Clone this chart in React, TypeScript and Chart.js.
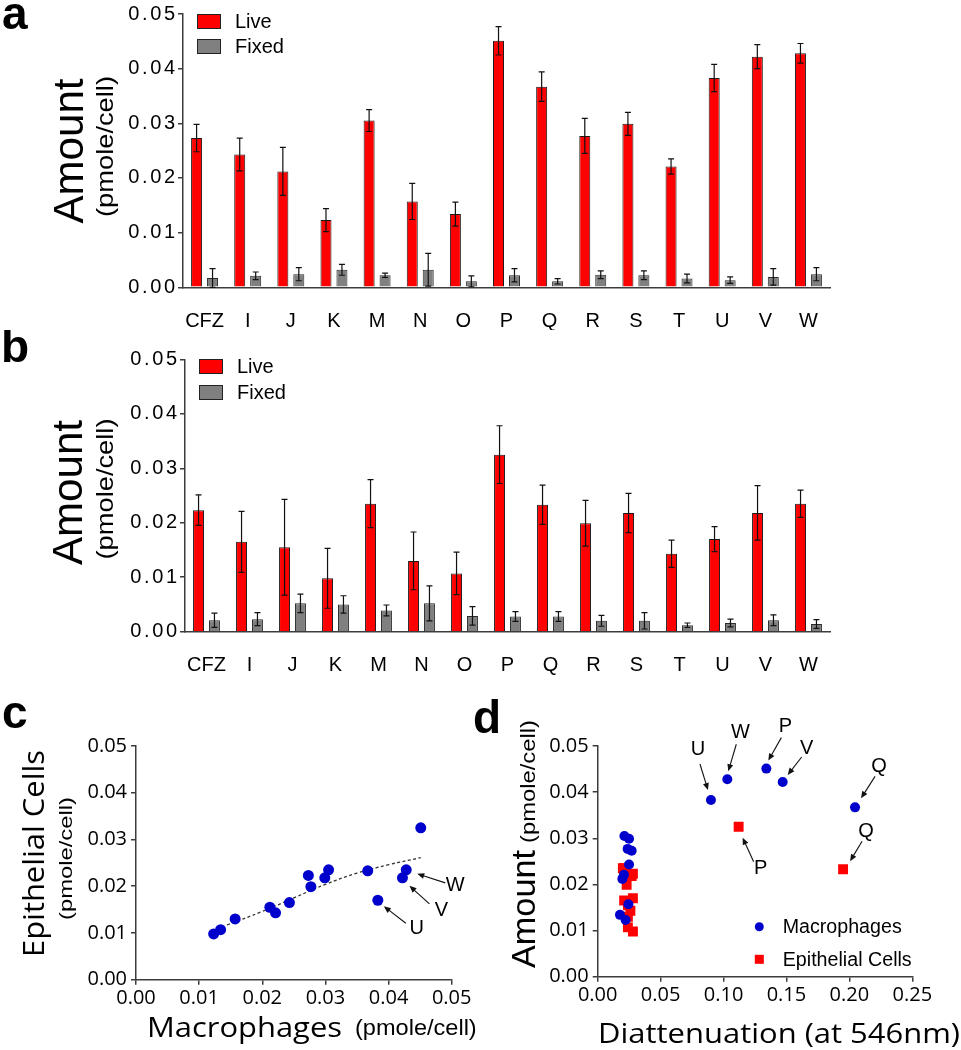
import React, { useEffect, useRef } from 'react';
import { Chart, registerables } from 'chart.js';
Chart.register(...registerables);

// ---------------- data ----------------
const compounds = ['CFZ', 'I', 'J', 'K', 'M', 'N', 'O', 'P', 'Q', 'R', 'S', 'T', 'U', 'V', 'W'];
const seriesLabels = ['Live', 'Fixed'];
const scatterLabels = ['Macrophages', 'Epithelial Cells'];

// panel a: macrophages
const macLive = [0.0273, 0.0243, 0.0212, 0.0123, 0.0305, 0.0157, 0.0134, 0.0451, 0.0367, 0.0277, 0.0299, 0.0221, 0.0383, 0.0422, 0.0428];
const macLiveErr = [0.0025, 0.0030, 0.0044, 0.0021, 0.0020, 0.0033, 0.0022, 0.0026, 0.0027, 0.0032, 0.0021, 0.0014, 0.0025, 0.0022, 0.0018];
const macFixed = [0.0017, 0.0021, 0.0024, 0.0032, 0.0022, 0.0032, 0.0011, 0.0022, 0.0011, 0.0023, 0.0022, 0.0016, 0.0013, 0.0019, 0.0024];
const macFixedErr = [0.0017, 0.0007, 0.0012, 0.0010, 0.0004, 0.0030, 0.0010, 0.0012, 0.0005, 0.0007, 0.0008, 0.0008, 0.0006, 0.0015, 0.0012];

// panel b: epithelial cells
const epiLive = [0.0223, 0.0165, 0.0155, 0.0098, 0.0235, 0.0130, 0.0107, 0.0325, 0.0233, 0.0199, 0.0218, 0.0143, 0.0170, 0.0218, 0.0235];
const epiLiveErr = [0.0028, 0.0056, 0.0088, 0.0055, 0.0044, 0.0053, 0.0039, 0.0053, 0.0036, 0.0042, 0.0036, 0.0025, 0.0023, 0.0050, 0.0025];
const epiFixed = [0.0021, 0.0023, 0.0052, 0.0050, 0.0039, 0.0052, 0.0029, 0.0028, 0.0028, 0.0020, 0.0020, 0.0012, 0.0016, 0.0021, 0.0014];
const epiFixedErr = [0.0013, 0.0012, 0.0017, 0.0016, 0.0010, 0.0032, 0.0017, 0.0009, 0.0009, 0.0010, 0.0015, 0.0004, 0.0007, 0.0010, 0.0008];

// panel c: dashed trend line
const fitX = [0.0144, 0.020, 0.025, 0.030, 0.035, 0.040, 0.0451];
const fitY = [0.0117, 0.0146, 0.0175, 0.0204, 0.0228, 0.0246, 0.0261];

// panel d: diattenuation at 546 nm
const macDiatt = [0.027, 0.0249, 0.0196, 0.0222, 0.0212, 0.0244, 0.0177, 0.134, 0.2045, 0.0238, 0.0249, 0.0209, 0.090, 0.147, 0.103];
const epiDiatt = [0.028, 0.021, 0.024, 0.028, 0.020, 0.024, 0.024, 0.112, 0.195, 0.023, 0.027, 0.026, 0.028, 0.024, 0.021];

// axis ranges / steps
const amountRange = [0, 0.05];
const amountStep = 0.01;
const diattRange = [0, 0.25];
const diattStep = 0.05;

// ---------------- helpers ----------------
const AR = '"Liberation Sans", Arial, Helvetica, sans-serif';
const OS = '"Open Sans", "Noto Sans", sans-serif';
const AXIS = '#3c3c3c';
const ROT = -Math.PI / 2;

type TxtOpt = { align?: CanvasTextAlign; baseline?: CanvasTextBaseline; rot?: number; width?: number; sx?: number; ls?: number; color?: string };
function txt(ctx: CanvasRenderingContext2D, s: string, x: number, y: number, font: string, o: TxtOpt = {}) {
  ctx.save();
  ctx.font = font;
  ctx.fillStyle = o.color || '#000';
  ctx.textAlign = o.align || 'left';
  ctx.textBaseline = o.baseline || 'alphabetic';
  const anyCtx = ctx as any;
  let useLs = false;
  if (o.ls && 'letterSpacing' in anyCtx) {
    anyCtx.letterSpacing = `${o.ls}px`;
    useLs = true;
  }
  ctx.translate(x + (useLs && o.align === 'right' ? o.ls! : 0), y);
  if (o.rot) ctx.rotate(o.rot);
  if (o.width) {
    const w = ctx.measureText(s).width;
    if (w > 0) ctx.scale(o.width / w, 1);
  } else if (o.sx) {
    ctx.scale(o.sx, 1);
  } else if (o.ls && !useLs) {
    ctx.scale(1.18, 1);
  }
  ctx.fillText(s, 0, 0);
  if (useLs) anyCtx.letterSpacing = '0px';
  ctx.restore();
}

function arrow(ctx: CanvasRenderingContext2D, x1: number, y1: number, x2: number, y2: number) {
  const a = Math.atan2(y2 - y1, x2 - x1);
  const L = 7, W = 3;
  ctx.save();
  ctx.strokeStyle = '#111';
  ctx.fillStyle = '#111';
  ctx.lineWidth = 1.1;
  ctx.beginPath();
  ctx.moveTo(x1, y1);
  ctx.lineTo(x2 - L * 0.8 * Math.cos(a), y2 - L * 0.8 * Math.sin(a));
  ctx.stroke();
  ctx.beginPath();
  ctx.moveTo(x2, y2);
  ctx.lineTo(x2 - L * Math.cos(a) + W * Math.sin(a), y2 - L * Math.sin(a) - W * Math.cos(a));
  ctx.lineTo(x2 - L * Math.cos(a) - W * Math.sin(a), y2 - L * Math.sin(a) + W * Math.cos(a));
  ctx.closePath();
  ctx.fill();
  ctx.restore();
}

function annotate(chart: any, dsIndex: number, name: string, tip: number[], tail: number[], label: number[]) {
  const ctx = chart.ctx as CanvasRenderingContext2D;
  const i = compounds.indexOf(name);
  const el = chart.getDatasetMeta(dsIndex).data[i];
  if (!el) return;
  arrow(ctx, el.x + tail[0], el.y + tail[1], el.x + tip[0], el.y + tip[1]);
  txt(ctx, name, el.x + label[0], el.y + label[1], `20px ${AR}`, { align: 'center', baseline: 'middle' });
}

const deco = (fn: (chart: any, ctx: CanvasRenderingContext2D) => void) => ({
  id: 'deco',
  afterDraw(chart: any) {
    fn(chart, chart.ctx);
  },
});

const errorBarPlugin = {
  id: 'errorBars',
  afterDatasetsDraw(chart: any) {
    const ctx = chart.ctx as CanvasRenderingContext2D;
    const y = chart.scales.y;
    chart.data.datasets.forEach((ds: any, i: number) => {
      const meta = chart.getDatasetMeta(i);
      meta.data.forEach((el: any, j: number) => {
        const v = ds.data[j];
        const e = ds.errors[j];
        const x = el.x;
        const yt = y.getPixelForValue(v + e);
        const yb = y.getPixelForValue(Math.max(0, v - e));
        ctx.save();
        ctx.strokeStyle = '#111';
        ctx.lineWidth = 1.2;
        ctx.beginPath();
        ctx.moveTo(x, yt);
        ctx.lineTo(x, yb);
        ctx.moveTo(x - 3, yt);
        ctx.lineTo(x + 3, yt);
        ctx.moveTo(x - 3, yb);
        ctx.lineTo(x + 3, yb);
        ctx.stroke();
        ctx.restore();
      });
    });
  },
};

const fmt2 = (v: any) => Number(v).toFixed(2);

// y tick labels of the bar panels are drawn from the library's own y scale, letter-spaced like the original
function wideYTicks(chart: any, ctx: CanvasRenderingContext2D) {
  const s = chart.scales.y;
  s.ticks.forEach((t: any) => {
    const y = s.getPixelForValue(t.value);
    txt(ctx, fmt2(t.value), s.right - 8, y, `20px ${AR}`, { align: 'right', baseline: 'middle', ls: 2.6 });
  });
}

function barLegend(ctx: CanvasRenderingContext2D, chart: any, x: number, ys: number[]) {
  chart.data.datasets.forEach((ds: any, i: number) => {
    ctx.save();
    ctx.fillStyle = ds.backgroundColor;
    ctx.strokeStyle = '#222';
    ctx.lineWidth = 1;
    ctx.fillRect(x, ys[i], 24, 15);
    ctx.strokeRect(x + 0.5, ys[i] + 0.5, 23, 14);
    ctx.restore();
    txt(ctx, ds.label, x + 38, ys[i] + 8, `20px ${AR}`, { baseline: 'middle' });
  });
}

function makeBar(live: number[], liveErr: number[], fixed: number[], fixedErr: number[], g: any) {
  return {
    type: 'bar',
    data: {
      labels: compounds,
      datasets: [
        { label: seriesLabels[0], data: live, errors: liveErr, backgroundColor: '#ff0000', borderColor: '#1a1a1a', borderWidth: 1, categoryPercentage: 0.74, barPercentage: 0.69 },
        { label: seriesLabels[1], data: fixed, errors: fixedErr, backgroundColor: '#808080', borderColor: '#2a2a2a', borderWidth: 1, categoryPercentage: 0.74, barPercentage: 0.69 },
      ],
    },
    options: {
      responsive: false,
      animation: false,
      events: [],
      layout: { padding: { top: g.padTop, right: g.padRight, left: 0, bottom: 0 } },
      plugins: { legend: { display: false }, tooltip: { enabled: false } },
      scales: {
        x: {
          offset: true,
          grid: { display: false },
          border: { display: true, color: AXIS, width: 1.5 },
          ticks: { color: '#000', font: { family: AR, size: 20 }, padding: 14, maxRotation: 0, autoSkip: false },
          afterFit: (s: any) => { s.height = g.xh; },
        },
        y: {
          min: amountRange[0],
          max: amountRange[1],
          ticks: { display: false, stepSize: amountStep, callback: fmt2 },
          grid: { drawOnChartArea: false, tickLength: 5, color: AXIS, lineWidth: 1.5 },
          border: { display: true, color: AXIS, width: 1.5 },
          afterFit: (s: any) => { s.width = g.yw; },
        },
      },
    },
    plugins: [errorBarPlugin, deco(g.draw)],
  };
}

function scatterScales(xRange: number[], xStep: number, g: any) {
  return {
    x: {
      type: 'linear',
      min: xRange[0],
      max: xRange[1],
      ticks: { stepSize: xStep, callback: fmt2, color: '#000', font: { family: OS, size: 20 }, padding: 2 },
      grid: { drawOnChartArea: false, tickLength: 5, color: AXIS, lineWidth: 1.5 },
      border: { display: true, color: AXIS, width: 1.5 },
      afterFit: (s: any) => { s.height = g.xh; },
    },
    y: {
      type: 'linear',
      min: amountRange[0],
      max: amountRange[1],
      ticks: { stepSize: amountStep, callback: fmt2, color: '#000', font: { family: OS, size: 20 }, padding: 4 },
      grid: { drawOnChartArea: false, tickLength: 5, color: AXIS, lineWidth: 1.5 },
      border: { display: true, color: AXIS, width: 1.5 },
      afterFit: (s: any) => { s.width = g.yw; },
    },
  };
}

function makeC() {
  const g = {
    padTop: 56, padRight: 28.3, yw: 136, xh: 70.3,
    draw: (chart: any, ctx: CanvasRenderingContext2D) => {
      txt(ctx, 'c', 2, 38, `bold 46px ${AR}`);
      txt(ctx, 'Epithelial Cells', 44, 163.5, `30px ${OS}`, { align: 'center', rot: ROT, width: 207 });
      txt(ctx, '(pmole/cell)', 72, 168.5, `19px ${AR}`, { align: 'center', rot: ROT, width: 123 });
      txt(ctx, 'Macrophages', 147, 346.7, `27px ${OS}`, { width: 195 });
      txt(ctx, '(pmole/cell)', 355, 345, `22px ${AR}`, { width: 121.7 });
      annotate(chart, 0, 'W', [11, 4], [39, 13], [49, 16]);
      annotate(chart, 0, 'V', [7, 8], [27, 26], [39, 33]);
      annotate(chart, 0, 'U', [6, 6], [28, 23], [39, 28]);
    },
  };
  return {
    type: 'scatter',
    data: {
      datasets: [
        {
          type: 'scatter',
          label: 'Live',
          data: macLive.map((x, i) => ({ x, y: epiLive[i] })),
          backgroundColor: '#0000cd',
          borderColor: '#0000cd',
          pointRadius: 5.5,
          pointBorderWidth: 0,
        },
        {
          type: 'line',
          label: 'fit',
          data: fitX.map((x, i) => ({ x, y: fitY[i] })),
          borderColor: '#333',
          borderWidth: 1.3,
          borderDash: [3, 2.5],
          pointRadius: 0,
          tension: 0.4,
          fill: false,
        },
      ],
    },
    options: {
      responsive: false,
      animation: false,
      events: [],
      layout: { padding: { top: g.padTop, right: g.padRight, left: 0, bottom: 0 } },
      plugins: { legend: { display: false }, tooltip: { enabled: false } },
      scales: scatterScales([0, 0.05], 0.01, g),
    },
    plugins: [deco(g.draw)],
  };
}

function makeD() {
  const g = {
    padTop: 56, padRight: 48.7, yw: 129.7, xh: 73.3,
    draw: (chart: any, ctx: CanvasRenderingContext2D) => {
      txt(ctx, 'd', 5, 43, `bold 46px ${AR}`);
      txt(ctx, 'Amount', 67, 278, `33px ${AR}`, { rot: ROT, width: 118 });
      txt(ctx, '(pmole/cell)', 67, 153, `20px ${AR}`, { rot: ROT, width: 123 });
      txt(ctx, 'Diattenuation (at 546nm)', 130, 353, `28px ${OS}`, { width: 362 });
      // legend
      const ds0 = chart.data.datasets[0];
      const ds1 = chart.data.datasets[1];
      ctx.save();
      ctx.fillStyle = ds0.backgroundColor;
      ctx.beginPath();
      ctx.arc(291.3, 236.7, 4.5, 0, Math.PI * 2);
      ctx.fill();
      ctx.fillStyle = ds1.backgroundColor;
      ctx.fillRect(286.8, 264.8, 9, 9);
      ctx.restore();
      txt(ctx, ds0.label, 314.7, 237, `20px ${AR}`, { baseline: 'middle', width: 119 });
      txt(ctx, ds1.label, 314.7, 270, `20px ${AR}`, { baseline: 'middle', width: 129 });
      // annotations
      annotate(chart, 0, 'U', [-3, -10], [-11, -36], [-13, -50]);
      annotate(chart, 0, 'W', [1, -8], [9, -35], [13, -47]);
      annotate(chart, 0, 'P', [2, -8], [15, -31], [19, -42]);
      annotate(chart, 0, 'V', [5, -7], [19, -25], [24, -34]);
      annotate(chart, 0, 'Q', [6, -9], [20, -31], [24, -41]);
      annotate(chart, 1, 'Q', [7, -8], [19, -28], [23, -38]);
      annotate(chart, 1, 'P', [4, 11], [15, 35], [22, 42]);
    },
  };
  return {
    type: 'scatter',
    data: {
      datasets: [
        {
          label: scatterLabels[0],
          data: macDiatt.map((x, i) => ({ x, y: macLive[i] })),
          backgroundColor: '#0000cd',
          borderColor: '#0000cd',
          pointRadius: 5,
          pointBorderWidth: 0,
        },
        {
          label: scatterLabels[1],
          data: epiDiatt.map((x, i) => ({ x, y: epiLive[i] })),
          backgroundColor: '#ff0000',
          borderColor: '#ff0000',
          pointStyle: 'rect',
          pointRadius: 7,
          pointBorderWidth: 0,
        },
      ],
    },
    options: {
      responsive: false,
      animation: false,
      events: [],
      layout: { padding: { top: g.padTop, right: g.padRight, left: 0, bottom: 0 } },
      plugins: { legend: { display: false }, tooltip: { enabled: false } },
      scales: scatterScales(diattRange, diattStep, g),
    },
    plugins: [deco(g.draw)],
  };
}

function makeA() {
  return makeBar(macLive, macLiveErr, macFixed, macFixedErr, {
    padTop: 14, padRight: 30, yw: 183, xh: 42.7,
    draw: (chart: any, ctx: CanvasRenderingContext2D) => {
      wideYTicks(chart, ctx);
      txt(ctx, 'a', 2, 29, `bold 46px ${AR}`);
      txt(ctx, 'Amount', 83, 151, `42px ${AR}`, { align: 'center', rot: ROT, width: 145 });
      txt(ctx, '(pmole/cell)', 113, 146.5, `24px ${AR}`, { align: 'center', rot: ROT, width: 141 });
      barLegend(ctx, chart, 197, [14, 39]);
    },
  });
}

function makeB() {
  return makeBar(epiLive, epiLiveErr, epiFixed, epiFixedErr, {
    padTop: 29.3, padRight: 30, yw: 185, xh: 43.3,
    draw: (chart: any, ctx: CanvasRenderingContext2D) => {
      wideYTicks(chart, ctx);
      txt(ctx, 'b', 1, 31.5, `bold 46px ${AR}`);
      txt(ctx, 'Amount', 82, 162.5, `42px ${AR}`, { align: 'center', rot: ROT, width: 145 });
      txt(ctx, '(pmole/cell)', 113, 159, `24px ${AR}`, { align: 'center', rot: ROT, width: 141 });
      barLegend(ctx, chart, 199, [29, 55]);
    },
  });
}

function ChartBox({ left, top, width, height, make }: { left: number; top: number; width: number; height: number; make: () => any }) {
  const ref = useRef<HTMLCanvasElement>(null);
  useEffect(() => {
    const chart = new Chart(ref.current as HTMLCanvasElement, make());
    return () => chart.destroy();
  }, []);
  return (
    <div style={{ position: 'absolute', left, top, width, height }}>
      <canvas ref={ref} width={width} height={height} style={{ width, height, display: 'block' }} />
    </div>
  );
}

export default function App() {
  return (
    <div style={{ position: 'absolute', left: 0, top: 0, width: 961, height: 1050, background: '#fff', overflow: 'hidden' }}>
      <ChartBox left={0} top={0} width={860} height={330} make={makeA} />
      <ChartBox left={0} top={330} width={860} height={345} make={makeB} />
      <ChartBox left={0} top={690} width={480} height={360} make={makeC} />
      <ChartBox left={468} top={690} width={493} height={360} make={makeD} />
    </div>
  );
}
